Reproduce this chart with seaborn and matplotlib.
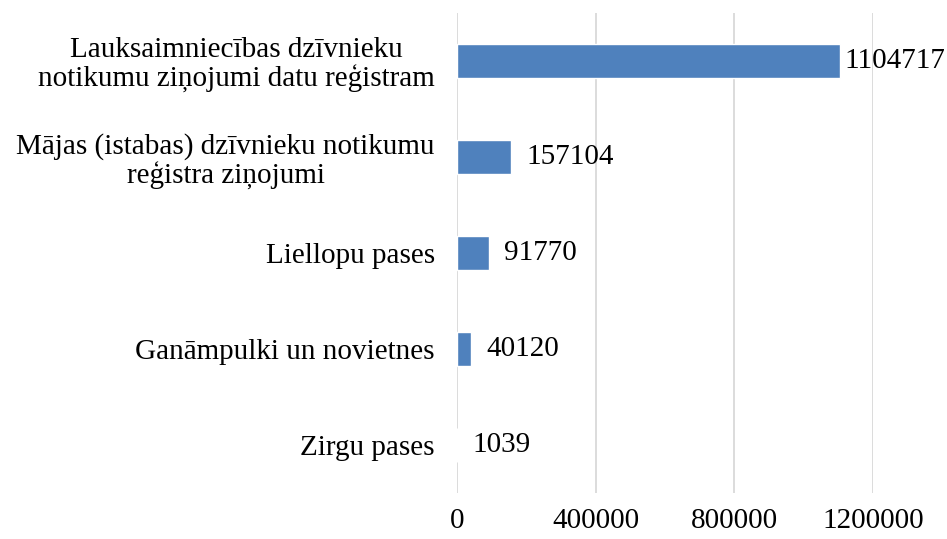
import seaborn as sns
import matplotlib.pyplot as plt
import pandas as pd

categories = [
    'Lauksaimniecības dzīvnieku\nnotikumu ziņojumi datu reģistram',
    'Mājas (istabas) dzīvnieku notikumu\nreģistra ziņojumi',
    'Liellopu pases',
    'Ganāmpulki un novietnes',
    'Zirgu pases',
]
values = [1104717, 157104, 91770, 40120, 1039]
ticks = [0, 400000, 800000, 1200000]

sns.set_style('white')
plt.rcParams['font.family'] = ['Liberation Serif', 'DejaVu Serif']
plt.rcParams['font.size'] = 21
plt.rcParams['text.color'] = 'black'
plt.rcParams['xtick.color'] = 'black'
plt.rcParams['ytick.color'] = 'black'

df = pd.DataFrame({'cat': categories, 'val': values})

fig = plt.figure(figsize=(9.47, 5.39), dpi=100)
ax = fig.add_axes([0.4826, 0.0853, 0.9219 - 0.4826, 0.9759 - 0.0853])
sns.barplot(data=df, x='val', y='cat', color='#4F81BD', width=0.36, ax=ax,
            saturation=1, orient='h')

ax.set_xlim(0, 1200000)
ax.set_xticks(ticks)
ax.set_xticklabels([str(t) for t in ticks])
ax.xaxis.grid(True, color='#D9D9D9', linewidth=1.3)
ax.set_axisbelow(True)
for s in ax.spines.values():
    s.set_visible(False)
ax.set_xlabel('')
ax.set_ylabel('')
ax.tick_params(axis='x', length=0, pad=11, labelsize=21)
ax.tick_params(axis='y', length=0, pad=16, labelsize=21)
for lab in ax.get_yticklabels():
    lab.set_multialignment('center')
    lab.set_linespacing(1.1)

pads = [3, 11, 11, 11, 11]
for bar, v, p in zip(ax.patches, values, pads):
    ax.annotate(str(v), (bar.get_width(), bar.get_y() + bar.get_height() / 2),
                xytext=(p, 0), textcoords='offset points',
                va='center', ha='left', fontsize=21, annotation_clip=False)

fig.savefig('out.png', dpi=100)
